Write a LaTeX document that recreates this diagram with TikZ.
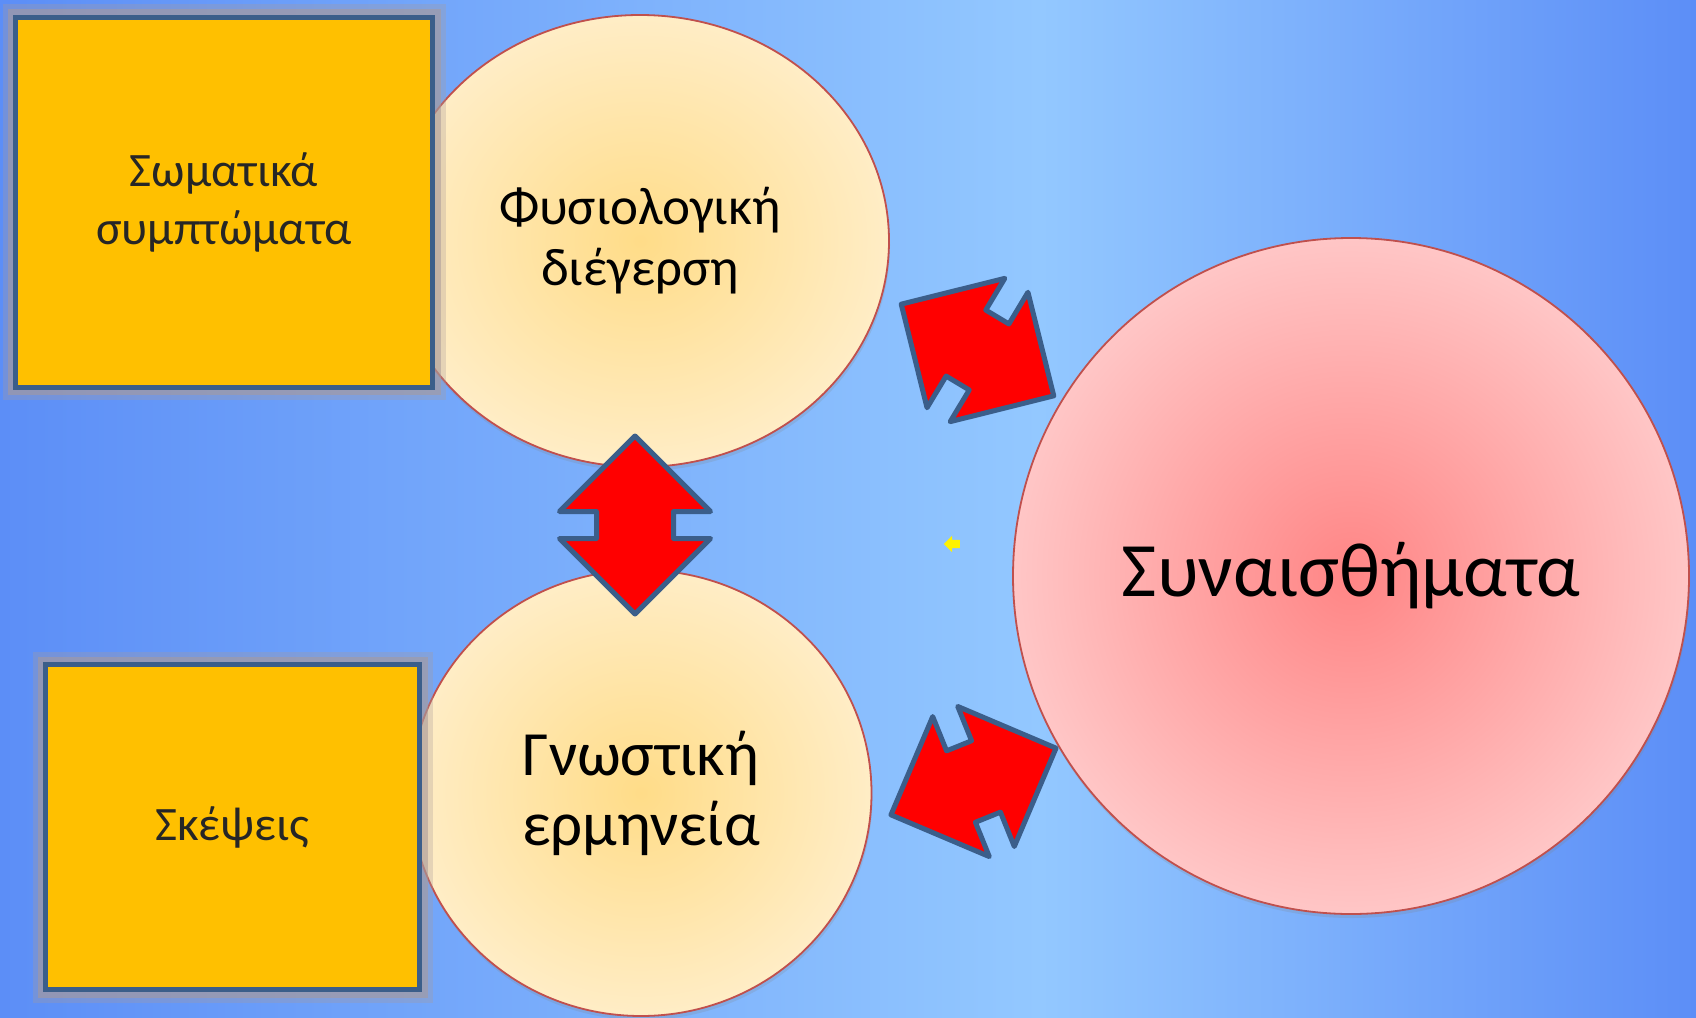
\documentclass[tikz,border=0pt]{standalone}
\usepackage{fontspec}
\setmainfont{Carlito}
\usetikzlibrary{shapes.geometric,shapes.arrows,shadows}
\definecolor{bgside}{HTML}{5C8EF7}
\definecolor{bgmid}{HTML}{93C8FF}
\definecolor{boxfill}{HTML}{FFC000}
\definecolor{edgeblue}{HTML}{3B5E8A}
\definecolor{ovalin}{HTML}{FFDC88}
\definecolor{ovalout}{HTML}{FFEDC6}
\definecolor{ovaledge}{HTML}{C0504D}
\definecolor{roundin}{HTML}{FF8585}
\definecolor{roundout}{HTML}{FFC6C6}
\definecolor{halo}{HTML}{AA9A98}
\definecolor{txtdark}{HTML}{262626}

\begin{document}
\begin{tikzpicture}[
    x=1pt, y=-1pt,
    every node/.style={inner sep=0pt},
    oval/.style={ellipse, draw=ovaledge, line width=1.8pt, inner color=ovalin, outer color=ovalout, align=center,
      drop shadow={opacity=.2, shadow xshift=1pt, shadow yshift=-4pt}},
    feeling/.style={circle, draw=ovaledge, line width=1.8pt, inner color=roundin, outer color=roundout,
      drop shadow={opacity=.2, shadow xshift=1pt, shadow yshift=-4pt}, font=\fontsize{77}{92}\selectfont},
    symptom/.style={rectangle, draw=edgeblue, line width=5pt, fill=boxfill, text=txtdark, align=center,
      preaction={draw=halo, line width=26pt, opacity=.3},
      preaction={draw=halo, line width=16pt, opacity=.55},
      font=\fontsize{48}{58}\selectfont},
    twoway/.style={double arrow, draw=edgeblue, fill=red, line width=5pt, line join=round,
      inner xsep=0pt, inner ysep=36pt, minimum width=0pt, minimum height=178pt, double arrow head extend=37pt}
]
\useasboundingbox (0,0) rectangle (1696,1017);
\fill[left color=bgside, right color=bgmid] (0,0) rectangle (1040,1017);
\fill[left color=bgmid, right color=bgside] (1040,0) rectangle (1696,1017);

\node[oval, minimum width=498pt, minimum height=452pt, font=\fontsize{53}{61}\selectfont] (arousal) at (640,241) {Φυσιολογική\\διέγερση};
\node[oval, minimum width=461pt, minimum height=446pt, font=\fontsize{63}{70}\selectfont] (appraisal) at (641,793) {Γνωστική\\ερμηνεία};
\node[symptom, minimum width=417pt, minimum height=370pt] (body) at (224,202) {Σωματικά\\συμπτώματα};
\node[symptom, minimum width=374pt, minimum height=325pt] (thoughts) at (232.5,827) {Σκέψεις};
\node[feeling, minimum size=676pt] (emotion) at (1351,576) {Συναισθήματα};

\node[twoway, rotate=90] (linkv) at (635,525) {};
\node[twoway, rotate=-31] (linkup) at (977.5,350) {};
\node[twoway, rotate=22] (linkdown) at (973.5,781.5) {};
\node[single arrow, fill=yellow, inner xsep=0pt, inner ysep=4pt, minimum width=0pt, minimum height=16pt, single arrow head extend=4pt, shape border rotate=180] (cue) at (954,544) {};
\end{tikzpicture}
\end{document}
